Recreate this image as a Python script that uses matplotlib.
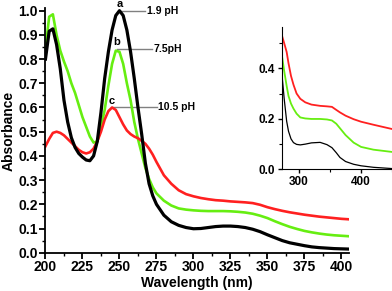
import numpy as np
import matplotlib.pyplot as plt
from matplotlib.ticker import MultipleLocator

plt.rcParams['font.family'] = ['Liberation Sans', 'DejaVu Sans']
plt.rcParams['font.weight'] = 'bold'

# main spectra (nm / absorbance)
wl = [200, 202.5, 205, 207.5, 210, 212.5, 215, 217.5, 220, 222.5,
      225, 227.5, 230, 232.5, 235, 237.5, 240, 242.5, 245, 247.5,
      250, 252.5, 255, 257.5, 260, 262.5, 265, 267.5, 270, 272.5,
      275, 280, 285, 290, 295, 300, 305, 310, 315, 320,
      325, 330, 335, 340, 345, 350, 355, 360, 365, 370,
      375, 380, 385, 390, 395, 400, 405]
abs_ph19 = [0.80, 0.915, 0.925, 0.86, 0.76, 0.63, 0.54, 0.475, 0.435, 0.41,
            0.395, 0.383, 0.38, 0.40, 0.46, 0.58, 0.72, 0.83, 0.92, 0.98,
            1.00, 0.98, 0.92, 0.83, 0.72, 0.60, 0.49, 0.37, 0.285, 0.235,
            0.20, 0.155, 0.128, 0.113, 0.104, 0.099, 0.10, 0.104, 0.108, 0.11,
            0.11, 0.108, 0.104, 0.097, 0.087, 0.074, 0.062, 0.05, 0.041, 0.035,
            0.029, 0.024, 0.021, 0.019, 0.017, 0.016, 0.015]
abs_ph75 = [0.84, 0.975, 0.985, 0.90, 0.835, 0.79, 0.75, 0.70, 0.66, 0.61,
            0.56, 0.52, 0.48, 0.455, 0.46, 0.52, 0.59, 0.69, 0.78, 0.835,
            0.83, 0.78, 0.70, 0.63, 0.54, 0.47, 0.41, 0.35, 0.305, 0.27,
            0.245, 0.215, 0.195, 0.183, 0.178, 0.175, 0.173, 0.172, 0.172, 0.172,
            0.171, 0.169, 0.166, 0.161, 0.153, 0.143, 0.13, 0.118, 0.107, 0.098,
            0.09, 0.084, 0.079, 0.075, 0.072, 0.07, 0.068]
abs_ph105 = [0.44, 0.47, 0.495, 0.50, 0.495, 0.485, 0.47, 0.455, 0.44, 0.425,
             0.415, 0.41, 0.415, 0.43, 0.46, 0.50, 0.55, 0.585, 0.60, 0.59,
             0.56, 0.53, 0.505, 0.49, 0.48, 0.473, 0.462, 0.45, 0.43, 0.405,
             0.375, 0.32, 0.285, 0.258, 0.242, 0.233, 0.226, 0.221, 0.217, 0.215,
             0.212, 0.21, 0.208, 0.205, 0.198, 0.188, 0.18, 0.173, 0.167, 0.162,
             0.157, 0.153, 0.149, 0.146, 0.143, 0.14, 0.138]

# inset
wl_in = [273, 276, 280, 283, 287, 291, 296, 302, 310, 320, 334, 345, 353,
         360, 366, 375, 388, 400, 420, 450]
ins_ph19 = [0.36, 0.28, 0.19, 0.15, 0.12, 0.105, 0.098, 0.096, 0.099, 0.104, 0.106, 0.097, 0.085,
            0.065, 0.046, 0.03, 0.019, 0.013, 0.007, 0.002]
ins_ph75 = [0.44, 0.39, 0.33, 0.29, 0.26, 0.24, 0.22, 0.205, 0.201, 0.199, 0.199, 0.197, 0.193,
            0.18, 0.162, 0.135, 0.105, 0.088, 0.077, 0.068]
ins_ph105 = [0.525, 0.50, 0.465, 0.42, 0.37, 0.335, 0.30, 0.279, 0.265, 0.256, 0.251, 0.249, 0.247,
             0.235, 0.225, 0.212, 0.198, 0.188, 0.176, 0.159]

fig = plt.figure(figsize=(3.92, 2.91), dpi=100)
ax = fig.add_axes([0.116, 0.1316, 0.774, 0.84])

ax.plot(wl, abs_ph19, color='black', lw=2.3, zorder=3)
ax.plot(wl, abs_ph75, color='#66ee11', lw=1.9, zorder=2)
ax.plot(wl, abs_ph105, color='#ff2020', lw=1.9, zorder=2)

ax.set_xlim(200, 405)
ax.set_ylim(0, 1.01)
ax.xaxis.set_major_locator(MultipleLocator(25))
ax.xaxis.set_minor_locator(MultipleLocator(12.5))
ax.yaxis.set_major_locator(MultipleLocator(0.1))
ax.yaxis.set_minor_locator(MultipleLocator(0.05))
for s in ['top', 'right']:
    ax.spines[s].set_visible(False)
for s in ['left', 'bottom']:
    ax.spines[s].set_linewidth(1.3)
ax.tick_params(which='major', direction='out', length=4, width=1.3, labelsize=10, pad=1.5)
ax.tick_params(which='minor', direction='out', length=2.5, width=1)
ax.set_xlabel('Wavelength (nm)', fontsize=10, fontweight='bold', labelpad=1)
ax.set_ylabel('Absorbance', fontsize=10, fontweight='bold', labelpad=2)

# peak labels
peaks = [(250, 1.0, 'a', '1.9 pH', 267.5, 1.027),
         (248, 0.84, 'b', '7.5pH', 272, 0.87),
         (245, 0.60, 'c', '10.5 pH', 275.5, 0.625)]
for px, py, letter, lab, xend, ly in peaks:
    ax.plot([px, xend], [py, py], color='#808080', lw=1, zorder=1, clip_on=False)
    ax.text(xend + 0.8, py, lab, fontsize=7.5, fontweight='bold', va='center', ha='left')
    ax.text(px, ly, letter, fontsize=8, fontweight='bold', va='center', ha='center', clip_on=False)

# inset
axi = fig.add_axes([0.7186, 0.419, 0.2816, 0.489])
axi.plot(wl_in, ins_ph19, color='black', lw=0.9)
axi.plot(wl_in, ins_ph75, color='#66ee11', lw=1.3)
axi.plot(wl_in, ins_ph105, color='#ff2020', lw=1.3)
axi.set_xlim(272, 450)
axi.set_ylim(0, 0.565)
axi.xaxis.set_major_locator(MultipleLocator(100))
axi.xaxis.set_minor_locator(MultipleLocator(50))
axi.yaxis.set_major_locator(MultipleLocator(0.2))
axi.yaxis.set_minor_locator(MultipleLocator(0.1))
for s in ['top', 'right']:
    axi.spines[s].set_visible(False)
axi.patch.set_alpha(0)
axi.tick_params(which='major', direction='out', length=3, width=1, labelsize=8.5, pad=2)
axi.tick_params(which='minor', direction='out', length=2, width=0.8)

fig.savefig('out.png', dpi=100)
